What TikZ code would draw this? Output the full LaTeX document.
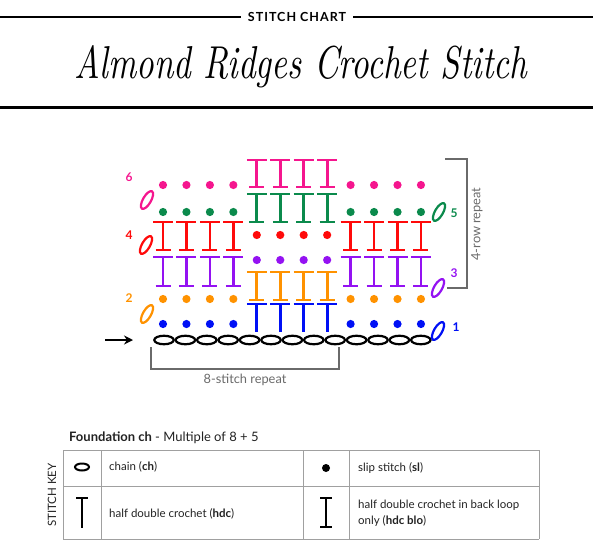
\documentclass[tikz,border=0pt]{standalone}
\usepackage{fontspec}
\setmainfont{Lato}
\newfontfamily\spacedfont[LetterSpace=8.0]{Lato}
\newfontfamily\titlefont{Latin Modern Roman}
\usetikzlibrary{arrows.meta,shapes.geometric}
\definecolor{cblue}{HTML}{0010F5}
\definecolor{corange}{HTML}{FF9200}
\definecolor{cpurple}{HTML}{9412F2}
\definecolor{cred}{HTML}{FF0A0A}
\definecolor{cgreen}{HTML}{0B8A4C}
\definecolor{cpink}{HTML}{F5168E}
\definecolor{bracketgray}{HTML}{6A6A6A}
\definecolor{tablegray}{HTML}{A0A0A0}
\definecolor{keytext}{HTML}{222222}
\newcommand\slst[3]{\fill[#1] (#2,#3) circle (4.1pt);}
\newcommand\hdcsym[4]{%
  \draw[#1,line width=2.8pt] (#2,#3) -- (#2,#4);
  \draw[#1,line width=2.8pt] ({#2-10},#3) -- ({#2+10},#3);}
\newcommand\hdcblosym[4]{%
  \hdcsym{#1}{#2}{#3}{#4}%
  \draw[#1,line width=2.8pt] ({#2-7.5},#4) -- ({#2+7.5},#4);}
\tikzset{
  turnch/.style={draw=#1, line width=2.2pt, ellipse, minimum width=20pt, minimum height=8pt, inner sep=0pt, rotate=60},
  rowlabel/.style={text=#1, font=\bfseries\fontsize{12}{14}\selectfont, inner sep=0pt},
  bracket/.style={draw=bracketgray, line width=1.3pt},
  brtext/.style={text=bracketgray, font=\fontsize{12.8}{15}\selectfont, inner sep=0pt},
  tline/.style={draw=tablegray, line width=0.8pt},
  keytxt/.style={text=keytext, font=\fontsize{11.5}{15.5}\selectfont, anchor=west, align=left, inner sep=0pt},
}
\begin{document}
\begin{tikzpicture}[x=1pt,y=-1pt]
\useasboundingbox (0,0) rectangle (593,556);
% header
\node[font=\spacedfont\bfseries\fontsize{12.5}{14}\selectfont, inner xsep=7pt, inner ysep=0pt] (hdr) at (297,17) {STITCH CHART};
\draw[line width=1.8pt] (0,17) -- (hdr.west);
\draw[line width=1.8pt] (hdr.east) -- (593,17);
\node[anchor=base, inner sep=0pt] (title) at (301,79) {\resizebox{452pt}{33pt}{\titlefont\itshape Almond Ridges Crochet Stitch}};
\draw[line width=3pt] (0,108) -- (593,108);
% chart: side columns
\foreach \j in {0,1,2,3,8,9,10,11}{
  \pgfmathsetmacro\xx{163+23.45*\j}
  \slst{cblue}{\xx}{324}
  \slst{corange}{\xx}{299}
  \hdcblosym{cpurple}{\xx}{257}{286}
  \hdcblosym{cred}{\xx}{222}{250}
  \slst{cgreen}{\xx}{212}
  \slst{cpink}{\xx}{185}
}
% chart: middle columns
\foreach \j in {4,5,6,7}{
  \pgfmathsetmacro\xx{163+23.45*\j}
  \hdcsym{cblue}{\xx}{304}{332}
  \hdcblosym{corange}{\xx}{272}{300}
  \slst{cpurple}{\xx}{260}
  \slst{cred}{\xx}{235}
  \hdcblosym{cgreen}{\xx}{194}{222}
  \hdcblosym{cpink}{\xx}{160}{187}
}
% foundation chain
\foreach \i in {0,...,12}{
  \node[draw, line width=2.2pt, ellipse, minimum width=19.5pt, minimum height=8.5pt, inner sep=0pt] (ch\i) at ({164+21.4*\i},340) {};
}
\coordinate (arrstart) at (105,340);
\coordinate (arrend) at (133,340);
\draw[line width=2.2pt, -{Stealth[length=9pt,width=9pt]}] (arrstart) -- (arrend);
% turning chains
\node[turnch=cblue] (t1) at (438,331) {};
\node[turnch=corange] (t2) at (147,314) {};
\node[turnch=cpurple] (t3) at (438,288) {};
\node[turnch=cred] (t4) at (146,245) {};
\node[turnch=cgreen] (t5) at (439,212) {};
\node[turnch=cpink] (t6) at (147,200) {};
\node[rowlabel=cblue] (l1) at (456,327) {1};
\node[rowlabel=corange] (l2) at (129,298) {2};
\node[rowlabel=cpurple] (l3) at (454,273) {3};
\node[rowlabel=cred] (l4) at (129,235) {4};
\node[rowlabel=cgreen] (l5) at (454,213) {5};
\node[rowlabel=cpink] (l6) at (129,177) {6};
% brackets
\draw[bracket] (151,347) -- (151,369) -- (339,369) -- (339,347);
\node[brtext] (rep8) at (245,380) {8-stitch repeat};
\draw[bracket] (445,159) -- (467,159) -- (467,288) -- (447,288);
\node[brtext, rotate=90] (rep4) at (477,224) {4-row repeat};
% stitch key
\node[anchor=base west, inner sep=0pt, text=keytext, font=\fontsize{13}{15}\selectfont] (found) at (69,441) {\textbf{Foundation ch} - Multiple of 8 + 5};
\draw[tline] (63,450) -- (539,450) (63,486) -- (539,486) (63,539) -- (539,539);
\foreach \x in {63,101,303,349,539} \draw[tline] (\x,450) -- (\x,539);
\node[rotate=90, text=keytext, font=\fontsize{11.5}{13}\selectfont, inner sep=0pt] (sk) at (52,495) {STITCH KEY};
\node[draw, line width=2pt, ellipse, minimum width=14pt, minimum height=7pt, inner sep=0pt] (kch) at (82,467) {};
\fill (326,468) circle (4pt);
\draw[line width=1.6pt] (82,498) -- (82,528);
\draw[line width=1.6pt] (76,498) -- (88,498);
\draw[line width=1.6pt] (326,498) -- (326,527);
\draw[line width=1.6pt] (320,498) -- (332,498);
\draw[line width=1.6pt] (320,527) -- (332,527);
\node[keytxt] (kt1) at (109,467) {chain (\textbf{ch})};
\node[keytxt] (kt2) at (358,468) {slip stitch (\textbf{sl})};
\node[keytxt] (kt3) at (109,514) {half double crochet (\textbf{hdc})};
\node[keytxt] (kt4) at (358,513) {half double crochet in back loop\\only (\textbf{hdc blo})};
\end{tikzpicture}
\end{document}
